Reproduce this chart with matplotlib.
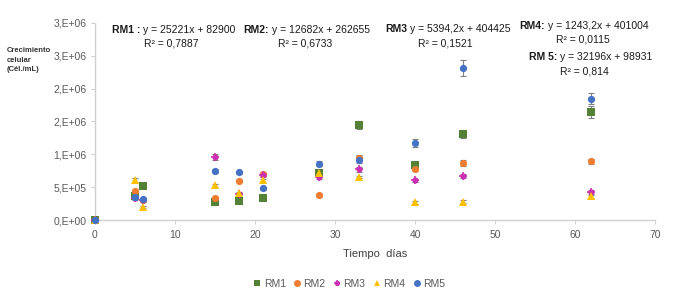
import matplotlib
matplotlib.use("Agg")
from matplotlib import pyplot as plt
from matplotlib.lines import Line2D
import numpy as np

plt.rcParams['font.family'] = ['Liberation Sans Narrow', 'Liberation Sans', 'DejaVu Sans']

# datos
dias = [0, 5, 6, 15, 18, 21, 28, 33, 40, 46, 62]
rm1 = [0, 0.37e6, 0.515e6, 0.28e6, 0.29e6, 0.333e6, 0.72e6, 1.44e6, 0.84e6, 1.31e6, 1.64e6]
rm2 = [0, 0.444e6, 0.30e6, 0.33e6, 0.60e6, 0.70e6, 0.374e6, 0.95e6, 0.78e6, 0.868e6, 0.894e6]
rm3 = [0, 0.33e6, 0.31e6, 0.96e6, 0.39e6, 0.68e6, 0.65e6, 0.77e6, 0.606e6, 0.677e6, 0.42e6]
rm4 = [0, 0.606e6, 0.197e6, 0.53e6, 0.41e6, 0.606e6, 0.71e6, 0.656e6, 0.27e6, 0.28e6, 0.36e6]
rm5 = [0, 0.35e6, 0.32e6, 0.753e6, 0.727e6, 0.48e6, 0.86e6, 0.92e6, 1.17e6, 2.31e6, 1.85e6]

# desviaciones (barras de error)
err1 = [0, 0.02e6, 0.03e6, 0.02e6, 0.02e6, 0.02e6, 0.03e6, 0.06e6, 0.04e6, 0.06e6, 0.09e6]
err2 = [0, 0.02e6, 0.02e6, 0.02e6, 0.02e6, 0.03e6, 0.02e6, 0.04e6, 0.03e6, 0.05e6, 0.04e6]
err3 = [0, 0.02e6, 0.02e6, 0.05e6, 0.02e6, 0.03e6, 0.03e6, 0.04e6, 0.02e6, 0.03e6, 0.03e6]
err4 = [0, 0.03e6, 0.02e6, 0.02e6, 0.02e6, 0.02e6, 0.03e6, 0.02e6, 0.02e6, 0.02e6, 0.02e6]
err5 = [0, 0.02e6, 0.02e6, 0.03e6, 0.02e6, 0.03e6, 0.04e6, 0.05e6, 0.06e6, 0.12e6, 0.09e6]

series = ['RM1', 'RM2', 'RM3', 'RM4', 'RM5']
colores = ['#538135', '#ED7D31', '#CC2FB0', '#FFC000', '#4472C4']
marcas = ['s', 'o', 'o', '^', 'o']

yticks = [0, 0.5e6, 1e6, 1.5e6, 2e6, 2.5e6, 3e6]
ytick_labels = ['0,E+00', '5,E+05', '1,E+06', '2,E+06', '2,E+06', '3,E+06', '3,E+06']
xticks = [0, 10, 20, 30, 40, 50, 60, 70]

ecuaciones = [
    # (etiqueta, ecuacion, r2, x ecuacion, y linea, x centro r2, y r2)
    ('RM1 :', 'y = 25221x + 82900', 'R² = 0,7887', 143, 30, 171, 44),
    ('RM2:', 'y = 12682x + 262655', 'R² = 0,6733', 272, 30, 305, 44),
    ('RM3', 'y = 5394,2x + 404425', 'R² = 0,1521', 410, 29, 445, 43),
    ('RM4:', 'y = 1243,2x + 401004', 'R² = 0,0115', 548, 26, 583, 40),
    ('RM 5:', 'y = 32196x + 98931', 'R² = 0,814', 560, 57, 584, 71),
]

W, H = 683, 301
fig = plt.figure(figsize=(W / 100, H / 100), dpi=100)
ax = fig.add_axes([95 / W, 1 - 220 / H, 560 / W, 197 / H])

valores = [rm1, rm2, rm3, rm4, rm5]
errores = [err1, err2, err3, err4, err5]
for nombre, y, e, c, m in zip(series, valores, errores, colores, marcas):
    ax.errorbar(dias, y, yerr=e, fmt='none', ecolor='#7f7f7f', elinewidth=0.8,
                capsize=2.2, capthick=0.8, zorder=2)
    ms = 4.4 if nombre == 'RM3' else 5.2
    ax.plot(dias, y, linestyle='none', marker=m, color=c, markersize=ms,
            markeredgewidth=0, zorder=3, clip_on=False)
    if nombre == 'RM3':
        # puntas del marcador en cruz
        ax.plot(dias, y, linestyle='none', marker='+', color=c, markersize=5.6,
                markeredgewidth=1.2, zorder=3, clip_on=False)

ax.set_xlim(0, 70)
ax.set_ylim(0, 3e6)
ax.set_xticks(xticks)
ax.set_yticks(yticks)
ax.set_yticklabels(ytick_labels)
for s in ['top', 'right']:
    ax.spines[s].set_visible(False)
for s in ['left', 'bottom']:
    ax.spines[s].set_color('#d0d0d0')
    ax.spines[s].set_linewidth(1.0)
ax.tick_params(colors='#d0d0d0', labelcolor='#595959', labelsize=7.5, length=3, width=0.8)
ax.tick_params(axis='y', pad=3)
ax.tick_params(axis='x', pad=4)

ax.set_xlabel('Tiempo  días', fontsize=8, color='#404040', labelpad=7)
fig.text(7 / W, 1 - 47 / H, 'Crecimiento\ncelular\n(Cél./mL)', fontsize=5.5,
         fontweight='bold', color='#333333', va='top', linespacing=1.5)

for etq, ec, r2, xq, yl, xr, yr in ecuaciones:
    fig.text((xq - 3) / W, 1 - yl / H, etq, fontsize=7.5, fontweight='bold',
             color='#1a1a1a', va='center', ha='right')
    fig.text(xq / W, 1 - yl / H, ec, fontsize=7.5, color='#1a1a1a', va='center')
    fig.text(xr / W, 1 - yr / H, r2, fontsize=7.5, color='#1a1a1a', va='center', ha='center')

handles = []
for nombre, c, m in zip(series, colores, marcas):
    if nombre == 'RM3':
        handles.append((Line2D([], [], linestyle='none', marker='o', color=c, markersize=3.8,
                               markeredgewidth=0),
                        Line2D([], [], linestyle='none', marker='+', color=c, markersize=5,
                               markeredgewidth=1.1)))
    else:
        handles.append(Line2D([], [], linestyle='none', marker=m, color=c,
                              markersize=5, markeredgewidth=0))
fig.legend(handles, series, loc='center', bbox_to_anchor=(349 / W, 1 - 284 / H), ncol=5,
           frameon=False, fontsize=7.5, handlelength=0.8, handletextpad=0.2,
           columnspacing=0.7, labelcolor='#595959')

fig.savefig('out.png', dpi=100)
